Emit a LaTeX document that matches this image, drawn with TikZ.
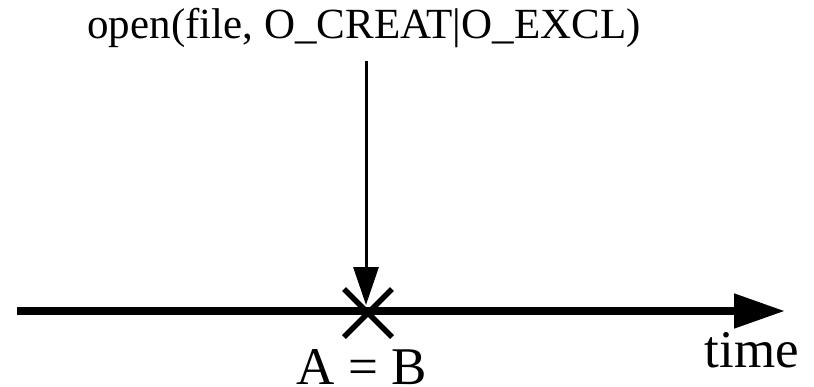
\documentclass[tikz,border=0pt]{standalone}
\usepackage{fontspec}
\setmainfont{Liberation Serif}
\usetikzlibrary{arrows.meta,calc}
\begin{document}
\begin{tikzpicture}[x=1pt,y=-1pt,
  lbl/.style={anchor=base,inner sep=0pt,font=\fontsize{53}{56}\selectfont},
  toplbl/.style={anchor=base,inner sep=0pt,font=\fontsize{43}{46}\selectfont},
  axis/.style={line width=8pt,-{Triangle[length=51pt,width=33pt]}},
  callarrow/.style={line width=3pt,-{Triangle[length=38pt,width=25pt]}},
  cross/.style={line width=5.5pt}]
\useasboundingbox (0,0) rectangle (814,386);
\coordinate (tstart) at (17,311);
\coordinate (tend) at (785,311);
\coordinate (ev) at (368,312);
\coordinate (callstart) at (366,61);
\coordinate (calltip) at (366,305);
\node[toplbl] (call) at (364,38) {open(file, O\_CREAT|O\_EXCL)};
\node[lbl] (ab) at (362,384) {A = B};
\node[lbl] (time) at (752,367) {time};
\draw[axis] (tstart) -- (tend);
\draw[callarrow] (callstart) -- (calltip);
\draw[cross] ($(ev)+(-24,-23)$) -- ($(ev)+(24,25)$);
\draw[cross] ($(ev)+(24,-23)$) -- ($(ev)+(-24,25)$);
\end{tikzpicture}
\end{document}
